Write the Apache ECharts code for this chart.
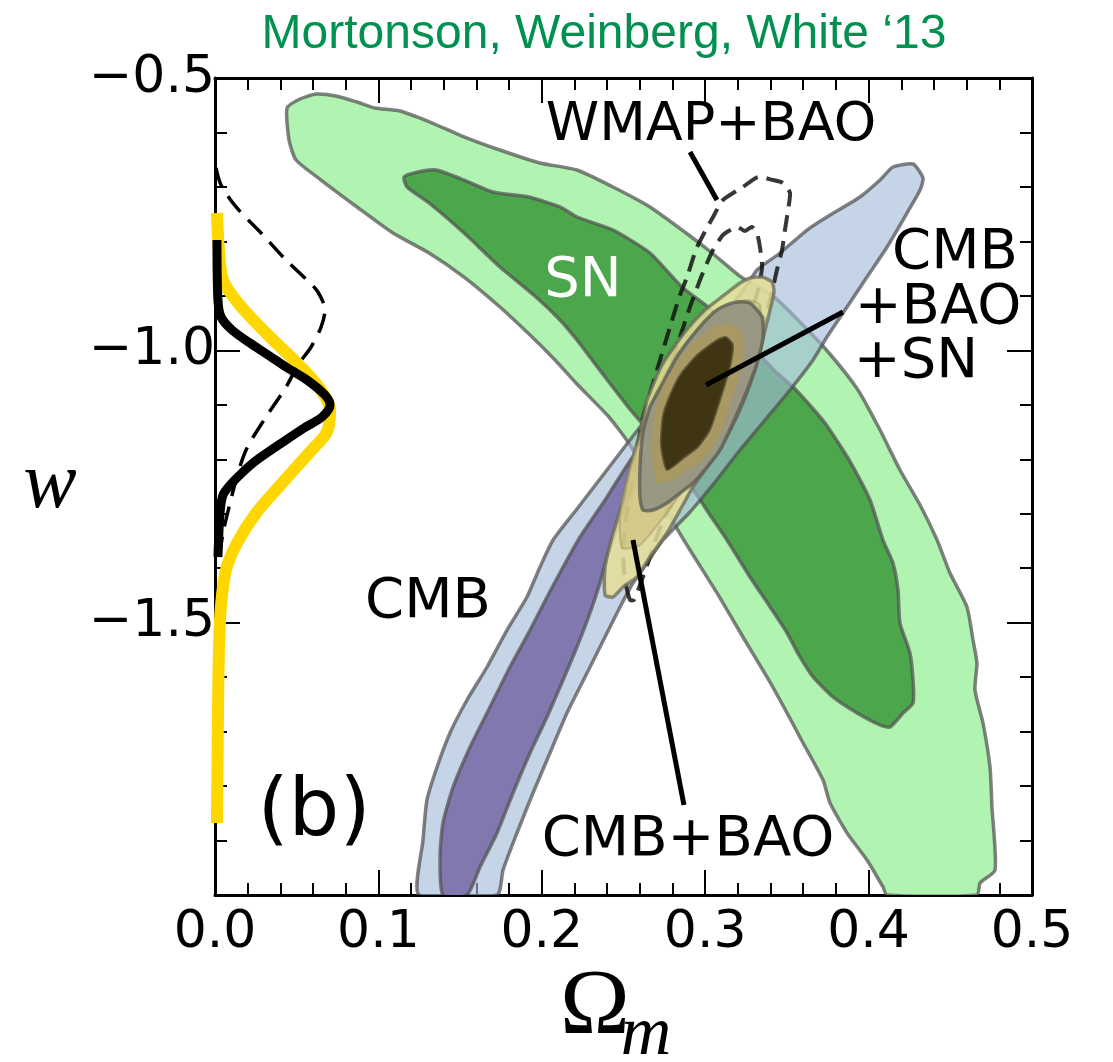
<!DOCTYPE html>
<html>
<head>
<meta charset="utf-8">
<script src="https://cdn.jsdelivr.net/npm/echarts@6/dist/echarts.min.js"></script>
<style>
  html, body { margin: 0; padding: 0; background: #fff; }
  #chart { width: 1113px; height: 1062px; }
</style>
</head>
<body>
<div id="chart"></div>
<script>
// axis ranges / ticks
var xTicks = [0.0, 0.1, 0.2, 0.3, 0.4, 0.5];
var yTicks = [-2.0, -1.5, -1.0, -0.5];

// contours, points are [Omega_m, w]
var snOuter = [[0.0441,-0.5551],[0.0520,-0.5386],[0.0618,-0.5294],[0.0741,-0.5330],[0.0869,-0.5441],[0.0979,-0.5551],[0.1132,-0.5606],[0.1316,-0.5808],[0.1512,-0.6065],[0.1744,-0.6322],[0.1989,-0.6561],[0.2215,-0.6689],[0.2436,-0.7001],[0.2662,-0.7368],[0.2883,-0.7846],[0.3042,-0.8213],[0.3219,-0.8654],[0.3421,-0.9021],[0.3580,-0.9480],[0.3758,-1.0049],[0.3935,-1.0728],[0.4070,-1.1463],[0.4192,-1.2197],[0.4315,-1.2840],[0.4419,-1.3482],[0.4498,-1.4088],[0.4602,-1.4712],[0.4639,-1.5318],[0.4663,-1.5741],[0.4651,-1.6236],[0.4700,-1.6842],[0.4743,-1.7650],[0.4755,-1.8384],[0.4774,-1.9541],[0.4682,-1.9780],[0.4663,-2.0],[0.4113,-2.0],[0.4088,-1.9853],[0.3990,-1.9358],[0.3868,-1.8862],[0.3764,-1.8311],[0.3721,-1.7889],[0.3599,-1.7209],[0.3501,-1.6659],[0.3378,-1.5997],[0.3231,-1.5263],[0.3072,-1.4455],[0.2907,-1.3666],[0.2815,-1.3207],[0.2662,-1.2381],[0.2540,-1.1738],[0.2411,-1.1224],[0.2209,-1.0600],[0.2081,-1.0178],[0.1928,-0.9719],[0.1744,-0.9204],[0.1524,-0.8654],[0.1310,-0.8213],[0.1089,-0.7846],[0.0869,-0.7368],[0.0649,-0.6873],[0.0496,-0.6506],[0.0453,-0.6138]];
var snInner = [[0.1157,-0.6818],[0.1242,-0.6726],[0.1353,-0.6689],[0.1524,-0.6873],[0.1701,-0.7093],[0.1922,-0.7185],[0.2111,-0.7368],[0.2215,-0.7552],[0.2436,-0.7791],[0.2662,-0.8213],[0.2858,-0.8837],[0.3017,-0.9204],[0.3213,-0.9719],[0.3421,-1.0361],[0.3556,-1.0728],[0.3733,-1.1334],[0.3892,-1.2069],[0.4009,-1.2748],[0.4088,-1.3482],[0.4149,-1.3905],[0.4180,-1.4400],[0.4192,-1.5006],[0.4253,-1.5557],[0.4272,-1.6053],[0.4272,-1.6475],[0.4211,-1.6659],[0.4131,-1.6916],[0.4070,-1.6879],[0.3929,-1.6659],[0.3782,-1.6365],[0.3660,-1.5997],[0.3580,-1.5630],[0.3501,-1.5190],[0.3397,-1.4712],[0.3274,-1.4162],[0.3133,-1.3482],[0.3029,-1.3023],[0.2907,-1.2473],[0.2754,-1.1867],[0.2595,-1.1279],[0.2528,-1.1040],[0.2368,-1.0416],[0.2215,-0.9810],[0.2111,-0.9443],[0.1964,-0.9021],[0.1744,-0.8470],[0.1524,-0.7846],[0.1310,-0.7295],[0.1175,-0.7001]];
var cmbOuter = [[0.1248,-2.0],[0.1273,-1.8990],[0.1297,-1.8256],[0.1359,-1.7650],[0.1438,-1.7026],[0.1542,-1.6420],[0.1665,-1.5814],[0.1787,-1.5135],[0.1909,-1.4529],[0.1989,-1.3978],[0.2069,-1.3482],[0.2215,-1.2913],[0.2436,-1.2050],[0.2662,-1.1169],[0.2883,-1.0306],[0.3060,-0.9572],[0.3256,-0.8800],[0.3317,-0.8525],[0.3458,-0.8213],[0.3623,-0.7791],[0.3745,-0.7552],[0.3947,-0.7185],[0.4070,-0.6873],[0.4149,-0.6634],[0.4272,-0.6579],[0.4333,-0.6836],[0.4315,-0.7056],[0.4235,-0.7479],[0.4113,-0.8103],[0.3990,-0.8654],[0.3868,-0.9204],[0.3745,-0.9755],[0.3660,-1.0178],[0.3519,-1.0728],[0.3366,-1.1279],[0.3213,-1.1830],[0.3060,-1.2417],[0.2907,-1.2968],[0.2742,-1.3482],[0.2644,-1.3905],[0.2558,-1.4272],[0.2479,-1.4712],[0.2399,-1.5190],[0.2277,-1.5924],[0.2154,-1.6659],[0.2050,-1.7393],[0.1946,-1.8127],[0.1848,-1.8862],[0.1763,-1.9541],[0.1726,-2.0]];
var cmbInner = [[0.1395,-2.0],[0.1377,-1.9303],[0.1395,-1.8678],[0.1457,-1.8017],[0.1561,-1.7283],[0.1683,-1.6549],[0.1805,-1.5814],[0.1928,-1.5135],[0.2032,-1.4529],[0.2130,-1.3978],[0.2234,-1.3427],[0.2387,-1.2748],[0.2552,-1.1977],[0.2613,-1.1830],[0.2570,-1.2381],[0.2491,-1.3023],[0.2399,-1.3794],[0.2356,-1.4272],[0.2295,-1.4823],[0.2215,-1.5447],[0.2130,-1.6053],[0.2032,-1.6732],[0.1928,-1.7393],[0.1824,-1.8127],[0.1726,-1.8862],[0.1622,-1.9486],[0.1542,-2.0]];
var wmapOuter = [[0.2540,-1.4584],[0.2509,-1.4217],[0.2497,-1.3666],[0.2515,-1.3115],[0.2552,-1.2473],[0.2583,-1.1830],[0.2619,-1.1224],[0.2681,-1.0600],[0.2742,-0.9994],[0.2803,-0.9388],[0.2846,-0.8984],[0.2889,-0.8654],[0.2950,-0.8103],[0.3048,-0.7552],[0.3109,-0.7240],[0.3231,-0.7001],[0.3323,-0.6818],[0.3415,-0.6873],[0.3476,-0.6928],[0.3519,-0.7111],[0.3507,-0.7424],[0.3488,-0.7791],[0.3470,-0.8158],[0.3439,-0.8525],[0.3397,-0.9076],[0.3317,-0.9810],[0.3213,-1.0545],[0.3091,-1.1279],[0.2968,-1.2013],[0.2846,-1.2564],[0.2742,-1.3115],[0.2662,-1.3794],[0.2601,-1.4309],[0.2564,-1.4584]];
var wmapInner = [[0.2662,-1.1591],[0.2723,-1.0912],[0.2785,-1.0306],[0.2846,-0.9755],[0.2907,-0.9204],[0.2968,-0.8709],[0.3011,-0.8397],[0.3048,-0.8158],[0.3109,-0.7883],[0.3195,-0.7736],[0.3244,-0.7809],[0.3286,-0.7736],[0.3317,-0.7846],[0.3335,-0.8103],[0.3348,-0.8470],[0.3323,-0.8892],[0.3244,-0.9627],[0.3121,-1.0545],[0.2999,-1.1279],[0.2907,-1.1738],[0.2797,-1.2050],[0.2699,-1.2013]];
var cmbBaoOuter = [[0.3213,-0.8764],[0.3274,-0.8672],[0.3348,-0.8654],[0.3409,-0.8745],[0.3421,-0.8929],[0.3397,-0.9260],[0.3366,-0.9627],[0.3305,-1.0361],[0.3213,-1.1096],[0.3103,-1.1738],[0.2999,-1.2197],[0.2925,-1.2509],[0.2846,-1.2932],[0.2766,-1.3354],[0.2662,-1.3794],[0.2583,-1.4162],[0.2497,-1.4345],[0.2436,-1.4529],[0.2387,-1.4492],[0.2387,-1.3978],[0.2436,-1.3354],[0.2497,-1.2748],[0.2540,-1.2142],[0.2601,-1.1518],[0.2644,-1.0912],[0.2736,-1.0269],[0.2876,-0.9663],[0.2999,-0.9260],[0.3109,-0.9002]];
var cmbBaoInner = [[0.3048,-0.9351],[0.3244,-0.9076],[0.3335,-0.9168],[0.3317,-0.9902],[0.3213,-1.0820],[0.3060,-1.1646],[0.2907,-1.2381],[0.2754,-1.3023],[0.2601,-1.3574],[0.2491,-1.3629],[0.2479,-1.3023],[0.2528,-1.2289],[0.2601,-1.1646],[0.2693,-1.0820],[0.2846,-0.9994]];
var allOuter = [[0.3048,-0.9315],[0.3103,-0.9204],[0.3195,-0.9113],[0.3274,-0.9131],[0.3348,-0.9388],[0.3354,-0.9755],[0.3317,-1.0233],[0.3244,-1.0820],[0.3164,-1.1371],[0.3091,-1.1830],[0.3011,-1.2142],[0.2925,-1.2436],[0.2846,-1.2620],[0.2766,-1.2803],[0.2681,-1.2932],[0.2619,-1.2932],[0.2601,-1.2693],[0.2601,-1.2142],[0.2619,-1.1518],[0.2662,-1.1040],[0.2742,-1.0600],[0.2827,-1.0122],[0.2950,-0.9627]];
var allMid = [[0.3042,-0.9590],[0.3140,-0.9498],[0.3231,-0.9682],[0.3225,-1.0269],[0.3164,-1.0912],[0.3091,-1.1555],[0.2999,-1.1977],[0.2907,-1.2160],[0.2797,-1.2381],[0.2705,-1.2436],[0.2674,-1.1793],[0.2693,-1.1096],[0.2736,-1.0692],[0.2815,-1.0269],[0.2919,-0.9866]];
var allInner = [[0.3072,-0.9810],[0.3127,-0.9755],[0.3170,-0.9902],[0.3152,-1.0306],[0.3091,-1.0912],[0.3029,-1.1463],[0.2956,-1.1775],[0.2876,-1.1958],[0.2766,-1.2197],[0.2729,-1.1738],[0.2742,-1.1187],[0.2785,-1.0820],[0.2846,-1.0453],[0.2950,-1.0086]];

// 1D marginals of w, drawn along the left axis
var pdfAll = [[0.0012,-0.7479],[0.0024,-0.8158],[0.0049,-0.8709],[0.0141,-0.9131],[0.0312,-0.9682],[0.0471,-1.0141],[0.0600,-1.0545],[0.0679,-1.0875],[0.0704,-1.1096],[0.0685,-1.1499],[0.0581,-1.1867],[0.0428,-1.2381],[0.0257,-1.2968],[0.0135,-1.3537],[0.0067,-1.4033],[0.0037,-1.4676],[0.0024,-1.5502],[0.0018,-1.6787],[0.0012,-1.8678]];
var pdfBlack = [[0.0012,-0.7974],[0.0018,-0.9076],[0.0037,-0.9388],[0.0104,-0.9627],[0.0214,-0.9866],[0.0343,-1.0122],[0.0435,-1.0306],[0.0563,-1.0545],[0.0673,-1.0820],[0.0704,-1.1004],[0.0655,-1.1224],[0.0545,-1.1426],[0.0435,-1.1646],[0.0257,-1.2013],[0.0171,-1.2233],[0.0104,-1.2436],[0.0049,-1.2656],[0.0031,-1.2987],[0.0018,-1.3794]];
var pdfDashed = [[0.0006,-0.6652],[0.0037,-0.6965],[0.0129,-0.7368],[0.0282,-0.7846],[0.0435,-0.8342],[0.0563,-0.8709],[0.0630,-0.8929],[0.0673,-0.9260],[0.0649,-0.9572],[0.0588,-0.9939],[0.0508,-1.0269],[0.0435,-1.0673],[0.0300,-1.1279],[0.0190,-1.1830],[0.0129,-1.2381],[0.0086,-1.2876],[0.0049,-1.3354],[0.0024,-1.3850]];

// pointer lines from labels
var ptrWmap = [[0.2907,-0.6359],[0.3072,-0.7240]];
var ptrAll = [[0.3843,-0.9296],[0.3005,-1.0637]];
var ptrCmbBao = [[0.2558,-1.3482],[0.2870,-1.8348]];

var EDGE = 'rgba(80,80,80,0.72)';

function contour(pts, fill, stroke, width, dash) {
  return {
    type: 'custom',
    silent: true,
    clip: true,
    data: [pts[0]],
    renderItem: function (params, api) {
      var points = pts.map(function (p) { return api.coord(p); });
      return {
        type: 'polygon',
        shape: { points: points, smooth: 0.2 },
        style: {
          fill: fill,
          stroke: stroke,
          lineWidth: width,
          lineDash: dash || null
        }
      };
    }
  };
}

function line(pts, color, width, type, smooth) {
  return {
    type: 'line',
    silent: true,
    symbol: 'none',
    smooth: smooth,
    data: pts,
    lineStyle: { color: color, width: width, type: type || 'solid', cap: 'butt' },
    z: 5
  };
}

var chart = echarts.init(document.getElementById('chart'), null, { renderer: 'canvas' });

var tickFont = { fontFamily: 'DejaVu Sans', fontSize: 52, color: '#000' };

function axisBase(extra) {
  var a = {
    type: 'value',
    axisLine: { show: true, onZero: false, lineStyle: { color: '#000', width: 3 } },
    axisTick: { show: true, inside: true, length: 25, lineStyle: { color: '#000', width: 2 } },
    minorTick: { show: true, splitNumber: 5, length: 12, lineStyle: { color: '#000', width: 2 } },
    splitLine: { show: false },
    minorSplitLine: { show: false }
  };
  for (var k in extra) a[k] = extra[k];
  return a;
}

var option = {
  animation: false,
  backgroundColor: '#fff',
  grid: { left: 215, top: 78, width: 817, height: 817, outerBoundsMode: 'none' },
  xAxis: [
    axisBase({
      position: 'bottom', min: xTicks[0], max: xTicks[xTicks.length - 1], interval: 0.1,
      axisLabel: Object.assign({ margin: 12, formatter: function (v) { return v.toFixed(1); } }, tickFont)
    }),
    axisBase({
      position: 'top', min: xTicks[0], max: xTicks[xTicks.length - 1], interval: 0.1,
      axisLabel: { show: false }
    })
  ],
  yAxis: [
    axisBase({
      position: 'left', min: yTicks[0], max: yTicks[yTicks.length - 1], interval: 0.5,
      axisLabel: Object.assign({
        margin: 0,
        formatter: function (v) { return v === -2 ? '' : v.toFixed(1).replace('-', '\u2212'); }
      }, tickFont)
    }),
    axisBase({
      position: 'right', min: yTicks[0], max: yTicks[yTicks.length - 1], interval: 0.5,
      axisLabel: { show: false }
    })
  ],
  series: [
    contour(snOuter, '#b1f3b1', EDGE, 3.5),
    contour(snInner, '#4ca64c', EDGE, 3.5),
    contour(cmbOuter, 'rgba(163,186,218,0.62)', EDGE, 3.5),
    contour(cmbInner, '#8078ae', EDGE, 3.5),
    contour(wmapOuter, 'none', 'rgba(20,20,20,0.85)', 4, [17, 9]),
    contour(wmapInner, 'none', 'rgba(20,20,20,0.85)', 4, [17, 9]),
    contour(cmbBaoOuter, 'rgba(229,221,150,0.85)', 'rgba(105,105,85,0.75)', 3.5),
    contour(cmbBaoInner, 'rgba(205,190,125,0.6)', 'rgba(160,150,100,0.5)', 2),
    contour(allOuter, 'rgba(150,149,130,0.95)', 'rgba(95,95,85,0.8)', 3.5),
    contour(allMid, 'rgba(168,152,96,0.9)', 'none', 0),
    contour(allInner, '#3f3512', 'rgba(90,80,50,0.8)', 2),
    line(pdfAll, '#ffd700', 12, 'solid', 0.3),
    line(pdfBlack, '#000', 9, 'solid', 0.3),
    line(pdfDashed, '#000', 3.5, [20, 11], 0.3),
    line(ptrWmap, '#000', 5),
    line(ptrAll, '#000', 5),
    line(ptrCmbBao, '#000', 5)
  ],
  graphic: [
    { type: 'text', x: 604, y: 35, style: { text: 'Mortonson, Weinberg, White \u201813', fill: '#009150', font: '48px "Liberation Sans", Arial, sans-serif', align: 'center', verticalAlign: 'middle', textAlign: 'center', textVerticalAlign: 'middle' } },
    { type: 'text', x: 711, y: 126, z: 20, style: { text: 'WMAP+BAO', fill: '#000', font: '54px "DejaVu Sans"', align: 'center', verticalAlign: 'middle', textAlign: 'center', textVerticalAlign: 'middle' } },
    { type: 'text', x: 583, y: 281, z: 20, style: { text: 'SN', fill: '#fff', font: '56px "DejaVu Sans"', align: 'center', verticalAlign: 'middle', textAlign: 'center', textVerticalAlign: 'middle' } },
    { type: 'text', x: 428, y: 602, z: 20, style: { text: 'CMB', fill: '#000', font: '56px "DejaVu Sans"', align: 'center', verticalAlign: 'middle', textAlign: 'center', textVerticalAlign: 'middle' } },
    { type: 'text', x: 955, y: 253, z: 20, style: { text: 'CMB', fill: '#000', font: '56px "DejaVu Sans"', align: 'center', verticalAlign: 'middle', textAlign: 'center', textVerticalAlign: 'middle' } },
    { type: 'text', x: 938, y: 308, z: 20, style: { text: '+BAO', fill: '#000', font: '56px "DejaVu Sans"', align: 'center', verticalAlign: 'middle', textAlign: 'center', textVerticalAlign: 'middle' } },
    { type: 'text', x: 916, y: 362, z: 20, style: { text: '+SN', fill: '#000', font: '56px "DejaVu Sans"', align: 'center', verticalAlign: 'middle', textAlign: 'center', textVerticalAlign: 'middle' } },
    { type: 'text', x: 688, y: 840, z: 20, style: { text: 'CMB+BAO', fill: '#000', font: '56px "DejaVu Sans"', align: 'center', verticalAlign: 'middle', textAlign: 'center', textVerticalAlign: 'middle' } },
    { type: 'text', x: 314, y: 814, z: 20, style: { text: '(b)', fill: '#000', font: '80px "DejaVu Sans"', align: 'center', verticalAlign: 'middle', textAlign: 'center', textVerticalAlign: 'middle' } },
    { type: 'text', x: 50, y: 486, style: { text: 'w', fill: '#000', font: 'italic 80px "Liberation Serif", serif', align: 'center', verticalAlign: 'middle', textAlign: 'center', textVerticalAlign: 'middle' } },
    { type: 'text', x: 595, y: 1008, style: { text: '\u03A9', fill: '#000', font: '94px "Liberation Serif", serif', align: 'center', verticalAlign: 'middle', textAlign: 'center', textVerticalAlign: 'middle' } },
    { type: 'text', x: 646, y: 1036, style: { text: 'm', fill: '#000', font: 'italic 70px "Liberation Serif", serif', align: 'center', verticalAlign: 'middle', textAlign: 'center', textVerticalAlign: 'middle' } }
  ]
};

chart.setOption(option);
</script>
</body>
</html>
